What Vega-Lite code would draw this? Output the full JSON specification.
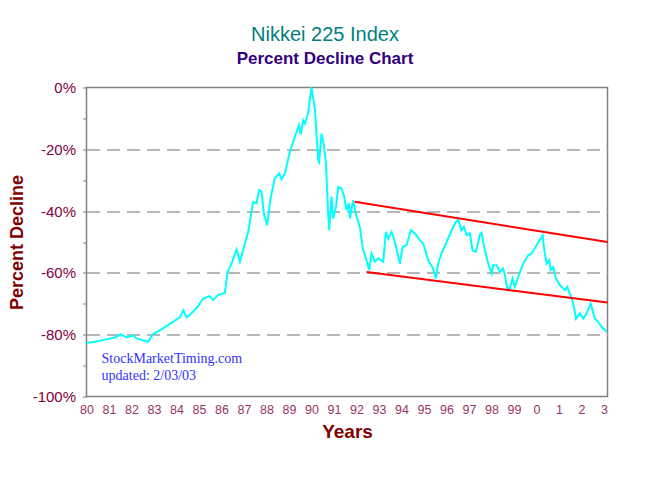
{
  "$schema": "https://vega.github.io/schema/vega-lite/v6.json",
  "width": 521,
  "height": 309,
  "autosize": {"type": "none"},
  "padding": {"left": 86.5, "top": 87.5, "right": 42.5, "bottom": 91.5},
  "background": "#ffffff",
  "title": {
    "text": "Nikkei 225 Index",
    "subtitle": "Percent Decline Chart",
    "font": "Liberation Sans",
    "fontSize": 20,
    "fontWeight": "normal",
    "color": "#008080",
    "subtitleFont": "Liberation Sans",
    "subtitleFontSize": 17,
    "subtitleFontWeight": "bold",
    "subtitleColor": "#330080",
    "subtitlePadding": 6,
    "anchor": "middle",
    "frame": "group",
    "dx": -22,
    "offset": 14
  },
  "datasets": {
    "series": [
      {"year": 1980.0, "pct": -82.7}, {"year": 1980.37, "pct": -82.3}, {"year": 1980.81, "pct": -81.6},
      {"year": 1981.26, "pct": -80.9}, {"year": 1981.53, "pct": -79.9}, {"year": 1981.78, "pct": -80.9},
      {"year": 1982.07, "pct": -80.2}, {"year": 1982.22, "pct": -81.2}, {"year": 1982.74, "pct": -82.3},
      {"year": 1982.96, "pct": -79.8}, {"year": 1983.33, "pct": -78.3}, {"year": 1983.78, "pct": -76.2},
      {"year": 1984.15, "pct": -74.4}, {"year": 1984.3, "pct": -72.1}, {"year": 1984.45, "pct": -74.4},
      {"year": 1984.67, "pct": -73.1}, {"year": 1984.96, "pct": -70.8}, {"year": 1985.18, "pct": -68.3},
      {"year": 1985.48, "pct": -67.5}, {"year": 1985.63, "pct": -68.8}, {"year": 1985.85, "pct": -67.2},
      {"year": 1986.15, "pct": -66.5}, {"year": 1986.27, "pct": -59.7}, {"year": 1986.45, "pct": -57.0},
      {"year": 1986.67, "pct": -52.4}, {"year": 1986.82, "pct": -56.4}, {"year": 1986.96, "pct": -52.7},
      {"year": 1987.19, "pct": -46.7}, {"year": 1987.41, "pct": -37.0}, {"year": 1987.56, "pct": -37.5},
      {"year": 1987.67, "pct": -33.2}, {"year": 1987.78, "pct": -33.6}, {"year": 1987.88, "pct": -40.8},
      {"year": 1988.03, "pct": -44.6}, {"year": 1988.18, "pct": -35.9}, {"year": 1988.37, "pct": -29.4},
      {"year": 1988.56, "pct": -27.8}, {"year": 1988.67, "pct": -29.7}, {"year": 1988.82, "pct": -27.8},
      {"year": 1989.04, "pct": -20.8}, {"year": 1989.26, "pct": -16.0}, {"year": 1989.45, "pct": -12.2},
      {"year": 1989.52, "pct": -15.2}, {"year": 1989.63, "pct": -10.6}, {"year": 1989.71, "pct": -11.7},
      {"year": 1989.85, "pct": -8.4}, {"year": 1990.0, "pct": 0.0}, {"year": 1990.15, "pct": -6.8},
      {"year": 1990.3, "pct": -23.5}, {"year": 1990.34, "pct": -24.1}, {"year": 1990.45, "pct": -14.9},
      {"year": 1990.55, "pct": -18.7}, {"year": 1990.64, "pct": -24.1}, {"year": 1990.74, "pct": -40.3},
      {"year": 1990.79, "pct": -46.2}, {"year": 1990.89, "pct": -35.4}, {"year": 1990.96, "pct": -42.4},
      {"year": 1991.09, "pct": -38.6}, {"year": 1991.19, "pct": -32.2}, {"year": 1991.34, "pct": -32.7},
      {"year": 1991.44, "pct": -34.9}, {"year": 1991.56, "pct": -39.7}, {"year": 1991.66, "pct": -37.5},
      {"year": 1991.71, "pct": -42.4}, {"year": 1991.85, "pct": -36.5}, {"year": 1992.01, "pct": -41.9},
      {"year": 1992.15, "pct": -45.1}, {"year": 1992.3, "pct": -52.7}, {"year": 1992.45, "pct": -55.9},
      {"year": 1992.57, "pct": -59.1}, {"year": 1992.67, "pct": -53.7}, {"year": 1992.82, "pct": -56.4},
      {"year": 1992.97, "pct": -55.3}, {"year": 1993.19, "pct": -56.4}, {"year": 1993.31, "pct": -46.7},
      {"year": 1993.41, "pct": -48.9}, {"year": 1993.56, "pct": -46.7}, {"year": 1993.71, "pct": -50.0},
      {"year": 1993.93, "pct": -57.0}, {"year": 1994.05, "pct": -51.6}, {"year": 1994.23, "pct": -51.0},
      {"year": 1994.42, "pct": -46.2}, {"year": 1994.6, "pct": -47.2}, {"year": 1994.82, "pct": -49.4},
      {"year": 1994.97, "pct": -50.5}, {"year": 1995.19, "pct": -55.9}, {"year": 1995.41, "pct": -58.6},
      {"year": 1995.53, "pct": -61.8}, {"year": 1995.63, "pct": -57.0}, {"year": 1995.78, "pct": -53.7},
      {"year": 1996.01, "pct": -50.0}, {"year": 1996.23, "pct": -46.2}, {"year": 1996.42, "pct": -43.5},
      {"year": 1996.52, "pct": -42.9}, {"year": 1996.67, "pct": -46.2}, {"year": 1996.78, "pct": -45.1},
      {"year": 1996.9, "pct": -47.8}, {"year": 1997.04, "pct": -47.2}, {"year": 1997.16, "pct": -52.7},
      {"year": 1997.31, "pct": -53.2}, {"year": 1997.49, "pct": -47.6}, {"year": 1997.56, "pct": -47.0},
      {"year": 1997.71, "pct": -52.7}, {"year": 1997.86, "pct": -57.0}, {"year": 1998.01, "pct": -60.2},
      {"year": 1998.08, "pct": -57.5}, {"year": 1998.23, "pct": -57.5}, {"year": 1998.38, "pct": -59.7},
      {"year": 1998.52, "pct": -58.6}, {"year": 1998.6, "pct": -60.7}, {"year": 1998.7, "pct": -65.0},
      {"year": 1998.82, "pct": -65.0}, {"year": 1998.94, "pct": -61.8}, {"year": 1999.04, "pct": -64.5},
      {"year": 1999.27, "pct": -59.7}, {"year": 1999.41, "pct": -57.0}, {"year": 1999.64, "pct": -54.3},
      {"year": 1999.79, "pct": -53.7}, {"year": 2000.01, "pct": -51.0}, {"year": 2000.28, "pct": -47.8},
      {"year": 2000.33, "pct": -51.6}, {"year": 2000.45, "pct": -57.0}, {"year": 2000.57, "pct": -55.9},
      {"year": 2000.63, "pct": -59.1}, {"year": 2000.75, "pct": -58.1}, {"year": 2000.87, "pct": -61.8},
      {"year": 2001.05, "pct": -64.0}, {"year": 2001.27, "pct": -65.6}, {"year": 2001.37, "pct": -64.5},
      {"year": 2001.57, "pct": -68.3}, {"year": 2001.67, "pct": -71.0}, {"year": 2001.76, "pct": -74.8},
      {"year": 2001.93, "pct": -73.1}, {"year": 2002.08, "pct": -74.8}, {"year": 2002.23, "pct": -73.1},
      {"year": 2002.41, "pct": -69.9}, {"year": 2002.6, "pct": -74.8}, {"year": 2002.75, "pct": -75.9},
      {"year": 2002.9, "pct": -77.5}, {"year": 2003.05, "pct": -78.5}, {"year": 2003.12, "pct": -79.1}
    ],
    "trends": [
      {"x1": 1991.92, "y1": -37.0, "x2": 2003.16, "y2": -50.0},
      {"x1": 1992.45, "y1": -59.7, "x2": 2003.16, "y2": -69.6}
    ]
  },
  "layer": [
    {
      "data": {"name": "series"},
      "mark": {"type": "line", "color": "#00FFFF", "strokeWidth": 2},
      "encoding": {
        "x": {
          "field": "year",
          "type": "quantitative",
          "scale": {"domain": [1980, 2003.16], "nice": false, "zero": false},
          "axis": {
            "values": [1980,1981,1982,1983,1984,1985,1986,1987,1988,1989,1990,1991,1992,1993,1994,1995,1996,1997,1998,1999,2000,2001,2002,2003],
            "tickCount": 40,
            "labelExpr": "'' + (datum.value >= 2000 ? datum.value - 2000 : datum.value - 1900)",
            "grid": false,
            "domain": false,
            "ticks": false,
            "labelFlush": false,
            "labelOverlap": false,
            "labelFont": "Liberation Sans",
            "labelFontSize": 12.5,
            "labelColor": "#993366",
            "labelPadding": 7,
            "title": "Years",
            "titleFont": "Liberation Sans",
            "titleFontSize": 19,
            "titleFontWeight": "bold",
            "titleColor": "#800000",
            "titlePadding": 6
          }
        },
        "y": {
          "field": "pct",
          "type": "quantitative",
          "scale": {"domain": [-100, 0], "nice": false},
          "axis": {
            "values": [-100,-90,-80,-70,-60,-50,-40,-30,-20,-10,0],
            "tickCount": 20,
            "labelExpr": "datum.value % 20 === 0 ? datum.value + '%' : ''",
            "grid": true,
            "gridDash": [13, 7],
            "gridColor": "#a0a0a0",
            "gridWidth": 1.5,
            "gridOpacity": {"condition": {"test": "datum.value % 20 === 0 && datum.value > -100 && datum.value < 0", "value": 1}, "value": 0},
            "domain": false,
            "tickColor": "#808080",
            "tickSize": 4,
            "labelOverlap": false,
            "labelFlush": false,
            "labelFont": "Liberation Sans",
            "labelFontSize": 15,
            "labelColor": "#800040",
            "labelPadding": 7,
            "title": "Percent Decline",
            "titleFont": "Liberation Sans",
            "titleFontSize": 18,
            "titleFontWeight": "bold",
            "titleColor": "#800000",
            "titlePadding": 6
          }
        }
      }
    },
    {
      "data": {"name": "trends"},
      "mark": {"type": "rule", "color": "#FF0000", "strokeWidth": 2},
      "encoding": {
        "x": {"field": "x1", "type": "quantitative"},
        "y": {"field": "y1", "type": "quantitative"},
        "x2": {"field": "x2"},
        "y2": {"field": "y2"}
      }
    },
    {
      "data": {"values": [{"label": "StockMarketTiming.com"}]},
      "mark": {"type": "text", "align": "left", "baseline": "alphabetic", "font": "Liberation Serif", "fontSize": 14, "color": "#3333FF"},
      "encoding": {
        "x": {"datum": 1980.67},
        "y": {"datum": -89.2},
        "text": {"field": "label"}
      }
    },
    {
      "data": {"values": [{"label": "updated: 2/03/03"}]},
      "mark": {"type": "text", "align": "left", "baseline": "alphabetic", "font": "Liberation Serif", "fontSize": 14, "color": "#3333FF"},
      "encoding": {
        "x": {"datum": 1980.67},
        "y": {"datum": -94.7},
        "text": {"field": "label"}
      }
    }
  ],
  "config": {
    "view": {"stroke": "#808080", "strokeWidth": 1.5}
  }
}
